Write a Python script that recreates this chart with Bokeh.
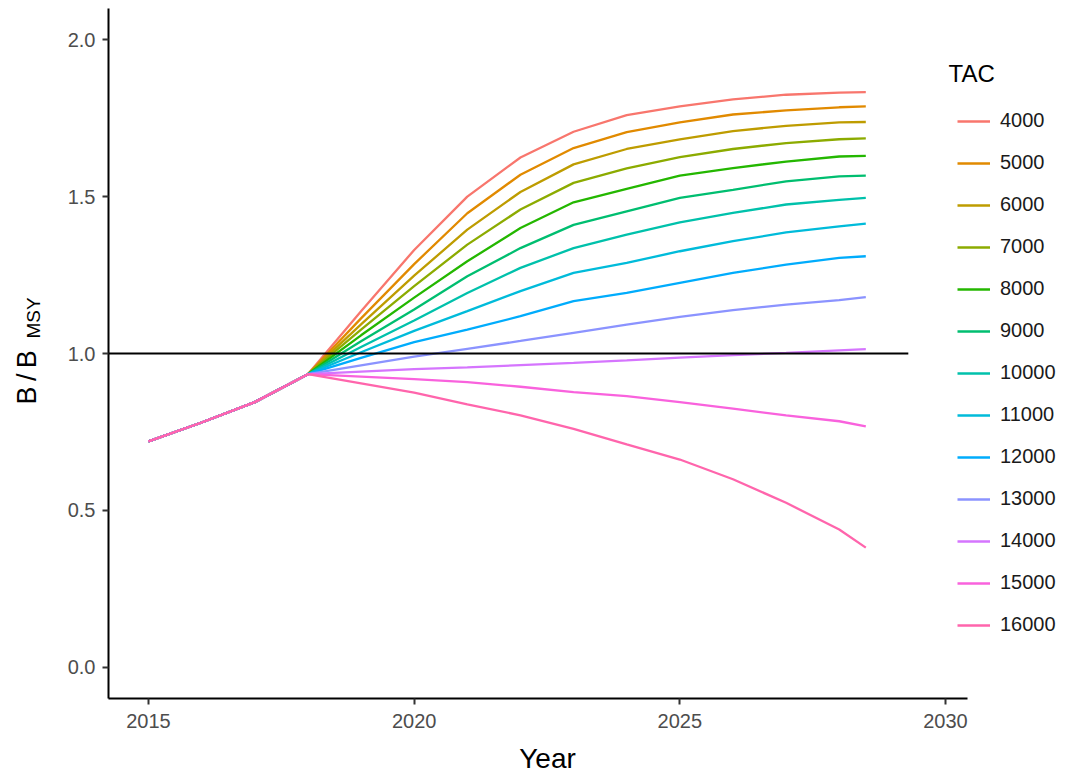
from bokeh.plotting import figure
from bokeh.models import (Range1d, FixedTicker, Label, Legend, LegendItem,
                          PrintfTickFormatter, LinearAxis)
from bokeh.embed import file_html
from bokeh.resources import INLINE

# ---------------- data ----------------
years_hist = [2015, 2016, 2017, 2018]
ratio_hist = [0.72, 0.78, 0.845, 0.934]
years_proj = [2019, 2020, 2021, 2022, 2023, 2024, 2025, 2026, 2027, 2028, 2028.5]

tac_levels = ["4000", "5000", "6000", "7000", "8000", "9000", "10000",
              "11000", "12000", "13000", "14000", "15000", "16000"]

tac_4000 = [1.135, 1.33, 1.50, 1.625, 1.707, 1.760, 1.788, 1.810, 1.825, 1.832, 1.833]
tac_5000 = [1.112, 1.285, 1.447, 1.570, 1.655, 1.706, 1.737, 1.762, 1.775, 1.785, 1.788]
tac_6000 = [1.093, 1.248, 1.395, 1.515, 1.603, 1.652, 1.683, 1.709, 1.726, 1.737, 1.738]
tac_7000 = [1.076, 1.215, 1.347, 1.459, 1.544, 1.590, 1.626, 1.652, 1.671, 1.683, 1.686]
tac_8000 = [1.058, 1.178, 1.294, 1.400, 1.482, 1.525, 1.567, 1.591, 1.612, 1.628, 1.630]
tac_9000 = [1.039, 1.140, 1.246, 1.336, 1.410, 1.453, 1.496, 1.522, 1.549, 1.565, 1.567]
tac_10000 = [1.021, 1.105, 1.193, 1.273, 1.336, 1.379, 1.418, 1.448, 1.475, 1.490, 1.496]
tac_11000 = [1.004, 1.072, 1.135, 1.199, 1.257, 1.289, 1.326, 1.358, 1.386, 1.405, 1.414]
tac_12000 = [0.986, 1.036, 1.076, 1.119, 1.167, 1.193, 1.225, 1.257, 1.283, 1.305, 1.310]
tac_13000 = [0.962, 0.990, 1.015, 1.040, 1.066, 1.092, 1.117, 1.138, 1.156, 1.170, 1.180]
tac_14000 = [0.942, 0.950, 0.956, 0.963, 0.970, 0.978, 0.987, 0.995, 1.002, 1.010, 1.014]
tac_15000 = [0.926, 0.918, 0.909, 0.894, 0.877, 0.864, 0.845, 0.824, 0.803, 0.784, 0.768]
tac_16000 = [0.905, 0.875, 0.838, 0.803, 0.760, 0.710, 0.662, 0.599, 0.524, 0.439, 0.381]

tac_series = [tac_4000, tac_5000, tac_6000, tac_7000, tac_8000, tac_9000, tac_10000,
              tac_11000, tac_12000, tac_13000, tac_14000, tac_15000, tac_16000]

colors = ["#F8766D", "#E18A00", "#BE9C00", "#8CAB00", "#24B700", "#00BE70", "#00C1AB",
          "#00BBDA", "#00ACFC", "#8B93FF", "#D575FE", "#F962DD", "#FF65AC"]

ref_x = [2014.0, 2029.3]
ref_y = [1.0, 1.0]

x_ticks = [2015, 2020, 2025, 2030]
y_ticks = [0.0, 0.5, 1.0, 1.5, 2.0]

FONT = "Liberation Sans"

# ---------------- layout geometry (pixels) ----------------
W, H = 1065, 776
PANEL_L, PANEL_R, PANEL_T, PANEL_B = 108, 967, 8, 698   # panel box in pixels
XMIN, XMAX = 2014.247, 2030.414                          # panel data limits
YMIN, YMAX = -0.0999, 2.0999

xs_per_px = (XMAX - XMIN) / (PANEL_R - PANEL_L)
ys_per_px = (YMAX - YMIN) / (PANEL_B - PANEL_T)
X0 = XMIN - PANEL_L * xs_per_px
X1 = XMAX + (W - PANEL_R) * xs_per_px
Y0 = YMIN - (H - PANEL_B) * ys_per_px
Y1 = YMAX + PANEL_T * ys_per_px

# ---------------- figure ----------------
p = figure(width=W, height=H,
           x_range=Range1d(X0, X1), y_range=Range1d(Y0, Y1),
           x_axis_location=None, y_axis_location=None,
           output_backend="svg", toolbar_location=None,
           min_border=0, min_border_left=0, min_border_right=0,
           min_border_top=0, min_border_bottom=0)

p.background_fill_color = "white"
p.border_fill_color = "white"
p.outline_line_color = None
p.grid.visible = False

xaxis = LinearAxis(fixed_location=YMIN, bounds=(XMIN, XMAX),
                   ticker=FixedTicker(ticks=x_ticks),
                   formatter=PrintfTickFormatter(format="%d"))
yaxis = LinearAxis(fixed_location=XMIN, bounds=(YMIN, YMAX),
                   ticker=FixedTicker(ticks=y_ticks),
                   formatter=PrintfTickFormatter(format="%.1f"))
for ax in (xaxis, yaxis):
    ax.axis_line_color = "black"
    ax.axis_line_width = 2
    ax.major_tick_line_color = "#333333"
    ax.major_tick_line_width = 2
    ax.major_tick_out = 6
    ax.major_tick_in = 0
    ax.minor_tick_line_color = None
    ax.major_label_text_font = FONT
    ax.major_label_text_font_size = "20px"
    ax.major_label_text_color = "#4D4D4D"
xaxis.major_label_standoff = 9
yaxis.major_label_standoff = 7
p.add_layout(xaxis, "below")
p.add_layout(yaxis, "left")

items = []
for lvl, vals, col in zip(tac_levels, tac_series, colors):
    xs = years_hist + years_proj
    ys = ratio_hist + vals
    r = p.line(xs, ys, line_color=col, line_width=2.3)
    items.append(LegendItem(label=lvl, renderers=[r]))

# reference line at B/BMSY = 1, clipped at the panel's left edge
p.line([max(ref_x[0], XMIN), ref_x[1]], ref_y, line_color="black", line_width=2)

legend = Legend(items=items, location=(957, 140), orientation="vertical",
                glyph_width=33, glyph_height=20, label_height=20, spacing=19,
                label_standoff=10, padding=0, margin=0,
                border_line_color=None, background_fill_alpha=0,
                label_text_font=FONT, label_text_font_size="20px",
                label_text_color="#1A1A1A")
p.add_layout(legend)

p.add_layout(Label(x=948, y=H - 73, x_units="screen", y_units="screen", text="TAC",
                   text_font=FONT, text_font_size="24px", text_color="black",
                   text_baseline="alphabetic", text_align="left"))

p.add_layout(Label(x=547, y=H - 758, x_units="screen", y_units="screen", text="Year",
                   text_font=FONT, text_font_size="28px", text_color="black",
                   text_baseline="alphabetic", text_align="center"))

p.add_layout(Label(x=26, y=H - 404, x_units="screen", y_units="screen",
                   text="B\u2009/\u2009B", angle=1.5707963267948966,
                   text_font=FONT, text_font_size="27px", text_color="black",
                   text_baseline="alphabetic", text_align="left"))
p.add_layout(Label(x=33, y=H - 338, x_units="screen", y_units="screen",
                   text="MSY", angle=1.5707963267948966,
                   text_font=FONT, text_font_size="19px", text_color="black",
                   text_baseline="alphabetic", text_align="left"))

open("out.html", "w").write(file_html(p, INLINE))
